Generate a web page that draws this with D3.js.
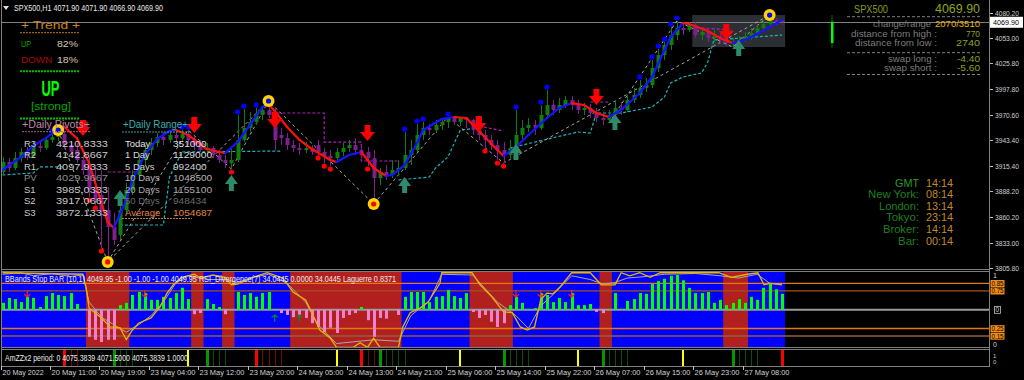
<!DOCTYPE html>
<html><head><meta charset="utf-8">
<script src="https://cdn.jsdelivr.net/npm/d3@7"></script>
<style>html,body{margin:0;padding:0;background:#000;overflow:hidden}svg{display:block}</style>
</head><body><svg id="chart"></svg>
<script>
// ---- candles (SPX500 H1), bar 0 = 20 May 03:00
var opens = [3909.0,3919.7,3913.3,3924.0,3930.5,3926.2,3936.9,3934.8,3943.4,3946.6,
 3949.9,3938.0,3932.6,3921.9,3916.5,3889.6,3884.3,3868.1,3849.9,3841.3,
 3868.1,3889.6,3905.8,3921.9,3932.6,3940.2,3946.6,3943.4,3948.8,3945.5,
 3949.9,3943.4,3938.0,3932.6,3934.8,3927.3,3921.9,3918.6,3921.9,3943.4,
 3956.3,3962.7,3970.3,3975.6,3973.5,3948.8,3945.5,3938.0,3934.8,3932.6,
 3934.8,3938.0,3930.5,3926.2,3924.0,3930.5,3934.8,3938.0,3932.6,3930.5,
 3924.0,3902.5,3909.0,3905.8,3911.1,3913.3,3927.3,3932.6,3948.8,3956.3,
 3954.1,3959.5,3962.7,3967.0,3962.7,3967.0,3964.9,3954.1,3948.8,3943.4,
 3938.0,3932.6,3927.3,3934.8,3948.8,3956.3,3959.5,3956.3,3970.3,3981.0,
 3975.6,3981.0,3986.4,3981.0,3975.6,3977.8,3972.4,3967.0,3964.9,3970.3,
 3977.8,3975.6,3986.4,3991.8,3999.3,4002.5,4020.8,4034.7,4045.5,4056.2,
 4063.8,4061.6,4067.0,4056.2,4059.5,4053.0,4055.2,4050.9,4047.6,4048.7,
 4050.9,4055.2,4058.4,4063.8,4068.1,4072.4,4071.9];
var highs = [3925.1,3924.0,3930.5,3934.8,3935.9,3941.2,3943.4,3946.6,3949.9,3954.1,
 3952.0,3941.2,3940.2,3927.3,3926.2,3916.5,3911.1,3892.9,3864.9,3873.5,
 3897.2,3911.1,3927.3,3938.0,3945.5,3950.9,3952.0,3954.1,3953.1,3954.1,
 3954.1,3947.7,3943.4,3940.2,3936.9,3932.6,3927.3,3934.8,3970.3,3976.7,
 3973.5,3977.8,3979.9,3985.3,3977.8,3956.3,3950.9,3943.4,3940.2,3941.2,
 3938.0,3943.4,3934.8,3932.6,3934.8,3940.2,3943.4,3945.5,3938.0,3935.9,
 3932.6,3913.3,3916.5,3921.9,3921.9,3952.0,3943.4,3960.6,3962.7,3960.6,
 3964.9,3965.9,3968.1,3967.5,3967.5,3967.5,3966.0,3964.9,3954.1,3948.8,
 3943.4,3941.2,3943.4,3975.6,3964.9,3967.0,3964.9,3981.0,3997.1,3986.4,
 3988.5,3990.7,3990.7,3986.4,3983.1,3982.1,3977.8,3973.5,3975.6,3986.4,
 3984.2,3991.8,3999.3,4007.9,4010.0,4029.4,4041.2,4048.7,4064.8,4071.3,
 4068.1,4070.2,4070.2,4063.8,4063.8,4061.6,4058.4,4055.2,4053.0,4055.2,
 4059.5,4063.8,4068.1,4072.4,4077.7,4074.5,4071.9];
var lows = [3904.7,3909.0,3911.1,3919.7,3921.9,3924.0,3930.5,3932.6,3940.2,3942.3,
 3934.8,3924.0,3918.6,3905.8,3882.1,3873.5,3827.3,3812.3,3830.5,3835.9,
 3862.8,3884.3,3900.4,3916.5,3927.3,3935.9,3938.0,3940.2,3941.2,3941.2,
 3938.0,3932.6,3930.5,3927.3,3924.0,3918.6,3913.3,3912.2,3919.7,3941.2,
 3952.0,3959.5,3964.9,3967.0,3932.6,3938.0,3932.6,3930.5,3927.3,3929.4,
 3927.3,3927.3,3918.6,3915.4,3921.9,3926.2,3930.5,3927.3,3924.0,3915.4,
 3874.6,3895.0,3900.4,3902.5,3904.7,3911.1,3916.5,3930.5,3943.4,3948.8,
 3950.9,3954.1,3956.3,3959.5,3958.4,3956.3,3948.8,3943.4,3934.8,3932.6,
 3921.9,3918.6,3924.0,3932.6,3943.4,3952.0,3948.8,3954.1,3967.0,3970.3,
 3972.4,3977.8,3975.6,3971.3,3970.3,3967.0,3962.7,3959.5,3961.6,3967.0,
 3970.3,3973.5,3983.1,3988.5,3995.0,3999.3,4016.5,4029.4,4040.1,4050.9,
 4056.2,4059.5,4053.0,4050.9,4048.7,4048.7,4046.6,4044.4,4043.3,4045.5,
 4048.7,4050.9,4055.2,4059.5,4064.8,4067.0,4066.9];
var closes = [3919.7,3913.3,3924.0,3930.5,3926.2,3936.9,3934.8,3943.4,3946.6,3949.9,
 3938.0,3930.5,3921.9,3911.1,3889.6,3878.9,3868.1,3849.9,3835.9,3868.1,
 3889.6,3905.8,3921.9,3932.6,3940.2,3946.6,3943.4,3948.8,3945.5,3949.9,
 3943.4,3938.0,3932.6,3934.8,3927.3,3921.9,3918.6,3921.9,3943.4,3956.3,
 3962.7,3970.3,3975.6,3970.3,3943.4,3945.5,3938.0,3934.8,3932.6,3934.8,
 3930.5,3930.5,3926.2,3924.0,3930.5,3934.8,3938.0,3932.6,3927.3,3924.0,
 3902.5,3909.0,3905.8,3911.1,3913.3,3927.3,3932.6,3948.8,3956.3,3954.1,
 3959.5,3962.7,3967.0,3962.7,3967.0,3964.9,3954.1,3948.8,3943.4,3938.0,
 3932.6,3927.3,3934.8,3948.8,3956.3,3959.5,3956.3,3970.3,3981.0,3975.6,
 3981.0,3986.4,3981.0,3975.6,3977.8,3972.4,3967.0,3964.9,3970.3,3977.8,
 3975.6,3986.4,3991.8,3999.3,4002.5,4020.8,4034.7,4045.5,4056.2,4063.8,
 4061.6,4067.0,4056.2,4059.5,4053.0,4055.2,4050.9,4047.6,4048.7,4050.9,
 4055.2,4058.4,4063.8,4068.1,4072.4,4070.2,4069.9];

// smoothed trend line [bar, price]
var maPoints = [[0,3911.1],[3,3925.1],[5,3936.9],[8,3949.9],[10,3957.4],[12,3945.5],[14,3918.6],[16,3875.7],
 [17,3855.2],[18,3848.8],[20,3878.9],[21,3900.4],[23,3927.3],[25,3944.5],[27,3953.1],[28,3954.1],[30,3948.8],
 [33,3933.7],[35,3930.5],[36,3929.4],[38,3941.2],[40,3959.5],[42,3978.8],[43,3982.1],[44,3974.5],[46,3957.4],
 [48,3943.4],[50,3933.7],[53,3921.9],[54,3919.7],[56,3927.3],[58,3930.5],[60,3913.3],[62,3904.7],[63,3905.8],
 [65,3916.5],[67,3940.2],[68,3954.1],[71,3965.9],[73,3968.1],[75,3967.0],[77,3953.1],[80,3932.6],[81,3926.2],
 [83,3935.9],[85,3948.8],[88,3967.0],[90,3977.8],[92,3983.1],[94,3981.0],[96,3972.4],[98,3968.1],[100,3975.6],
 [103,3993.9],[105,4011.1],[107,4040.1],[108,4054.1],[110,4069.1],[111,4068.0],[114,4060.5],[116,4053.0],
 [118,4047.6],[120,4050.9],[122,4057.3],[124,4064.8],[126,4072.4]];

var zigzagMajor = [[9,3954.1],[17,3812.3],[43,3985.3],[60,3874.6],[72,3968.1],[81,3918.6],[124,4077.7]];
var zigzagMinor = [[[17,3812.3],[30,3954.1],[37,3912.2],[43,3985.3]],
 [[98,3961.6],[109,4071.3],[118,4043.3],[124,4077.7]]];

var upperChannel = [[[17,3909.0],[22,3909.0]],
 [[42,3972.4],[52,3972.4],[52,3941.2],[58,3941.2],[58,3920.8],[64,3920.8]],
 [[77,3958.4],[81,3953.1]], [[95,3984.2],[98,3984.2]], [[113,4063.8],[118,4061.6]]];
var lowerChannel = [[[0,3905.8],[5,3907.9],[6,3914.4],[10,3914.4]],
 [[19,3852.0],[26,3852.0],[27,3903.6],[29,3930.5],[45,3931.5]],
 [[64,3900.4],[69,3903.6],[70,3913.3],[72,3925.1],[74,3954.1],[77,3956.3]],
 [[82,3934.8],[93,3952.0],[95,3950.9],[96,3972.4],[100,3972.4],[105,3978.8],[107,3989.6],[108,4004.6],
  [110,4011.1],[113,4015.4],[114,4027.2],[115,4050.9],[124,4055.2],[126,4056.2]]];

var fractalHighBars = [8,29,30,38,39,41,65,67,68,72,83,87,88,103,105,106,107,108,109];
var fractalLowBars = [14,15,16,37,51,52,53,59,78,80,81];
var swingHighBars = [9,43,124];
var swingLowBars = [17,60];
var sellArrows = [[13,3956.3],[31,3959.5],[44,3964.9],[59,3950.9],[77,3960.6],[96,3989.6],[117,4059.5]];
var buyArrows = [[19,3881.0],[37,3897.2],[65,3895.0],[83,3930.5],[99,3962.7],[119,4042.3]];
var sessionBoxBars = [111.5,126.5];
var sessionBoxPrices = [4077.7,4043.3];
var lastBid = 4069.90;
var dailyBar = {open:4047.6, high:4077.7, low:4042.3, close:4070.5};

var priceTicks = [4080.20,4053.00,4025.80,3997.80,3970.60,3943.40,3915.40,3888.20,3860.20,3833.00,3805.80];
var timeTickBars = [0,8,16,24,32,40,48,56,64,72,80,88,96,104,112,120];
var timeLabels = ["20 May 2022","20 May 11:00","20 May 19:00","23 May 04:00","23 May 12:00","23 May 20:00",
 "24 May 05:00","24 May 13:00","24 May 21:00","25 May 06:00","25 May 14:00","25 May 22:00",
 "26 May 07:00","26 May 15:00","26 May 23:00","27 May 08:00"];

// ---- sub window 1
var histValues = [0.09,0.155,0.14,0.10,0.17,0.155,0.035,0.18,0.22,0.195,
 0.18,0.22,0.075,0,-0.36,-0.40,-0.43,-0.40,-0.40,0.06,
 0.09,0.195,0.235,0.22,0.13,0.13,0.17,0.155,0.22,0.29,
 0.14,-0.06,-0.045,0.14,0.075,0.035,-0.06,0,0.235,0.195,
 0.22,0.17,0.22,0.235,0,-0.045,-0.07,-0.10,-0.07,-0.11,
 -0.18,-0.23,-0.30,-0.24,-0.31,-0.11,-0.07,-0.045,0.035,-0.14,
 -0.36,-0.11,-0.12,0,-0.07,0.17,0.235,0.235,0.235,0.10,
 0.17,0.18,0.26,0.18,0.155,0.22,-0.03,-0.11,-0.07,-0.16,
 -0.23,-0.18,0.06,0.17,0.09,0.01,0.02,0.22,0.195,0.10,
 0.155,0.10,0.22,0.06,0.06,0.075,-0.03,-0.045,0.01,0.22,
 0.01,0.115,0.14,0.22,0.21,0.34,0.38,0.41,0.45,0.46,
 0.39,0.29,0.22,0.22,0.235,0.09,0.13,0.06,0.09,0.14,
 0.09,0.17,0.13,0.29,0.34,0.27,0.21];
var stopBandRanges = [[14,20],[31,32],[36,37],[47,64],[76,82],[97,98],[117,120]];
var laguerrePoints = [[0,0.99],[13,0.97],[13.5,0.8],[14,0.52],[16,0.39],[17.4,0.27],[19,0.26],[20,0.1],[21,0.23],
 [22,0.32],[24,0.39],[25.5,0.54],[26.6,0.72],[27.6,0.83],[29,0.93],[31,0.97],[32,0.92],[34,0.96],[36,0.93],
 [37,0.83],[38,0.84],[40.5,0.93],[42.8,0.99],[45.3,0.92],[47,0.73],[49,0.63],[50,0.46],[51.3,0.23],[53,0.12],
 [54,0],[56.7,0],[57.8,0.06],[59,0],[60,0.12],[61,0],[64,0],[64.7,0.27],[65.9,0.46],[67.5,0.52],[68.8,0.6],
 [70.7,0.85],[71,0.99],[75.9,0.99],[77.2,0.83],[79.1,0.67],[81,0.47],[82.4,0.46],[83.7,0.27],[84.8,0.23],
 [86,0.27],[87,0.63],[88,0.72],[89,0.71],[90,0.79],[92,0.99],[95,0.99],[96.8,0.83],[99,0.83],[100,0.99],
 [101.4,0.95],[103,0.99],[104.7,0.93],[106.3,0.99],[115.8,0.99],[117.8,0.93],[120.4,0.97],[122.1,0.99],
 [123.1,0.83],[124.1,0.85],[126,0.83]];
var rsiPoints = [[0,0.97],[3,0.99],[5,0.95],[8,0.98],[11,0.94],[13,0.96],[14,0.6],[16,0.4],[18,0.3],[20,0.2],
 [22,0.3],[24,0.42],[26,0.6],[28,0.85],[30,0.95],[33,0.9],[36,0.9],[38,0.86],[40,0.92],[43,0.97],[46,0.85],
 [49,0.6],[51,0.3],[54,0.05],[60,0.1],[64,0.08],[66,0.42],[69,0.62],[71,0.97],[76,0.96],[80,0.6],[83,0.42],
 [85,0.25],[87,0.55],[89,0.7],[92,0.95],[95,0.9],[97,0.84],[99,0.86],[101,0.92],[104,0.94],[107,0.97],
 [112,0.98],[116,0.95],[119,0.92],[122,0.97],[124,0.85],[126,0.84]];
var panelLevels = [0.85,0.75,0.25,0.15];
var panelSellBars = [4,23,83,87,92];
var panelBuyBars = [44,48];
var panelLabel = "BBands Stop BAR (10,1) 4049.95 -1.00 -1.00 -1.00 4049.95  RSI_Divergence(7) 34.0445 0.0000 34.0445  Laguerre 0.8371";

// ---- sub window 2
var yellowSignals = [30,54,74,93,110];
var redStrong = [10,41,58,126];
var redWeak = [11,12,42,43,44,45,59,60];
var greenStrong = [18,33,61,81,97,118];
var greenWeak = [19,20,21,34,35,36,62,63,64,65,82,83,84,85,98,99,100,101,119,120,121,122];
var zzLabel = "AmZZx2 period: 0 4075.3839 4071.5000 4075.3839 1.0000";

// ---- text panels
var trendUp = "82%", trendDown = "18%";
var pivotNames = ["R3","R2","R1","PV","S1","S2","S3"];
var pivotValues = ["4210.8333","4142.8667","4097.9333","4029.9667","3985.0333","3917.0667","3872.1333"];
var rangeNames = ["Today","1 Day","5 Days","10 Days","20 Days","50 Days","Average"];
var rangeValues = ["351000","1129000","992400","1048500","1155100","948434","1054687"];
var infoNames = ["change/range","distance from high :","distance from low :","swap long :","swap short :"];
var infoValues = ["2070/3510","770","2740","-4.40","-5.60"];
var clockNames = ["GMT","New York:","London:","Tokyo:","Broker:","Bar:"];
var clockValues = ["14:14","08:14","13:14","23:14","14:14","00:14"];

var FONT = "'Liberation Sans', Arial, sans-serif";

function txt(sel, x, cy, s, o) {
  o = o || {};
  var size = o.size || 9;
  var t = sel.append('text')
    .attr('x', x).attr('y', cy + size * 0.36)
    .attr('font-family', FONT).attr('font-size', size)
    .attr('fill', o.color || '#c8c8c8')
    .attr('text-anchor', o.anchor || 'start')
    .text(s);
  if (o.w) t.attr('textLength', o.w).attr('lengthAdjust', 'spacingAndGlyphs');
  if (o.weight) t.attr('font-weight', o.weight);
  return t;
}

function hline(sel, x1, x2, yy, color, dash, w) {
  sel.append('line').attr('x1', x1).attr('x2', x2).attr('y1', yy).attr('y2', yy)
    .attr('stroke', color).attr('stroke-width', w || 1)
    .attr('stroke-dasharray', dash || null);
}

function drawChart() {
  var svg = d3.select('#chart').attr('width', 1024).attr('height', 380);
  svg.append('rect').attr('width', 1024).attr('height', 380).attr('fill', '#000');

  var x = d3.scaleLinear().domain([0, 126]).range([2.5, 782]);
  var y = d3.scaleLinear().domain([3805.8, 4080.2]).range([268, 12.7]);
  var yP = d3.scaleLinear().domain([0, 1]).range([347.3, 272]);

  var defs = svg.append('defs');
  defs.append('clipPath').attr('id', 'clipMain').append('rect')
    .attr('x', 2).attr('y', 0).attr('width', 987).attr('height', 269);

  var main = svg.append('g').attr('clip-path', 'url(#clipMain)');

  // session box
  main.append('rect')
    .attr('x', x(sessionBoxBars[0])).attr('y', y(sessionBoxPrices[0]))
    .attr('width', x(sessionBoxBars[1]) - x(sessionBoxBars[0]))
    .attr('height', y(sessionBoxPrices[1]) - y(sessionBoxPrices[0]))
    .attr('fill', '#2b2f33');

  // bid line
  hline(main, 2, 989, Math.round(y(lastBid)) + 0.5, '#7f7f7f', null, 1);

  var line = d3.line().x(d => x(d[0])).y(d => y(d[1]));

  // channels
  lowerChannel.forEach(seg => main.append('path').attr('d', line(seg))
    .attr('fill', 'none').attr('stroke', '#1fb3bd').attr('stroke-width', 1.2).attr('stroke-dasharray', '3,2'));
  upperChannel.forEach(seg => main.append('path').attr('d', line(seg))
    .attr('fill', 'none').attr('stroke', '#b21fb5').attr('stroke-width', 1.2).attr('stroke-dasharray', '3,2'));

  // zigzags
  main.append('path').attr('d', line(zigzagMajor)).attr('fill', 'none')
    .attr('stroke', '#a8a8a8').attr('stroke-width', 1).attr('stroke-dasharray', '3,3');
  zigzagMinor.forEach(seg => main.append('path').attr('d', line(seg)).attr('fill', 'none')
    .attr('stroke', '#a8a8a8').attr('stroke-width', 1).attr('stroke-dasharray', '3,3'));

  // candles
  var bars = closes.map((c, i) => ({i: i, o: opens[i], h: highs[i], l: lows[i], c: c}));
  var col = d => d.c >= d.o ? '#117d11' : '#7f1f8f';
  main.selectAll('.wick').data(bars).join('line').attr('class', 'wick')
    .attr('x1', d => Math.round(x(d.i)) + 0.5).attr('x2', d => Math.round(x(d.i)) + 0.5)
    .attr('y1', d => y(d.h)).attr('y2', d => y(d.l))
    .attr('stroke', col).attr('stroke-width', 1);
  main.selectAll('.body').data(bars).join('rect').attr('class', 'body')
    .attr('x', d => Math.round(x(d.i)) - 1.5)
    .attr('y', d => y(Math.max(d.o, d.c)))
    .attr('width', 4)
    .attr('height', d => Math.max(1, Math.abs(y(d.o) - y(d.c))))
    .attr('fill', col);

  // trend line, blue rising, red falling
  for (var k = 1; k < maPoints.length; k++) {
    var a = maPoints[k - 1], b = maPoints[k];
    main.append('line').attr('x1', x(a[0])).attr('y1', y(a[1])).attr('x2', x(b[0])).attr('y2', y(b[1]))
      .attr('stroke', b[1] >= a[1] ? '#1414ff' : '#ff1010').attr('stroke-width', 2.2)
      .attr('stroke-linecap', 'round');
  }

  // fractal dots
  main.selectAll('.fh').data(fractalHighBars).join('circle')
    .attr('cx', d => x(d)).attr('cy', d => y(highs[d]) - 3).attr('r', 2.6).attr('fill', '#0000ff');
  main.selectAll('.fl').data(fractalLowBars).join('circle')
    .attr('cx', d => x(d)).attr('cy', d => y(lows[d]) + 3).attr('r', 2.6).attr('fill', '#ff0000');

  // swing circles
  swingHighBars.forEach(function(b) {
    main.append('circle').attr('cx', x(b)).attr('cy', y(highs[b])).attr('r', 6).attr('fill', '#ffd400');
    main.append('circle').attr('cx', x(b)).attr('cy', y(highs[b])).attr('r', 2.6).attr('fill', '#0000ff');
  });
  swingLowBars.forEach(function(b) {
    main.append('circle').attr('cx', x(b)).attr('cy', y(lows[b])).attr('r', 6).attr('fill', '#ffd400');
    main.append('circle').attr('cx', x(b)).attr('cy', y(lows[b])).attr('r', 2.6).attr('fill', '#ff0000');
  });

  // arrows
  function downArrow(cx, cy) {
    return 'M' + (cx - 3) + ',' + (cy - 8) + 'H' + (cx + 3) + 'V' + (cy - 1) + 'H' + (cx + 7.5) +
      'L' + cx + ',' + (cy + 8) + 'L' + (cx - 7.5) + ',' + (cy - 1) + 'H' + (cx - 3) + 'Z';
  }
  function upArrow(cx, cy) {
    return 'M' + (cx - 2.5) + ',' + (cy + 8) + 'H' + (cx + 2.5) + 'V' + (cy + 1) + 'H' + (cx + 6.5) +
      'L' + cx + ',' + (cy - 8) + 'L' + (cx - 6.5) + ',' + (cy + 1) + 'H' + (cx - 2.5) + 'Z';
  }
  sellArrows.forEach(d => main.append('path').attr('d', downArrow(x(d[0]), y(d[1]))).attr('fill', '#ff0000'));
  buyArrows.forEach(d => main.append('path').attr('d', upArrow(x(d[0]), y(d[1]))).attr('fill', '#2e8b6a'));

  // daily bar at the right
  svg.append('line').attr('x1', 832).attr('x2', 832).attr('y1', y(dailyBar.high)).attr('y2', y(dailyBar.low))
    .attr('stroke', '#0c6a0c').attr('stroke-width', 1);
  svg.append('rect').attr('x', 831).attr('y', y(dailyBar.close)).attr('width', 2.5)
    .attr('height', y(dailyBar.open) - y(dailyBar.close)).attr('fill', '#00ff00');

  // ---- header
  svg.append('path').attr('d', 'M3,6H9L6,10Z').attr('fill', '#e0e0e0');
  txt(svg, 14, 8, 'SPX500,H1  4071.90 4071.90 4066.90 4069.90', {size: 8.5, color: '#e8e8e8', w: 149});

  // ---- trend box
  txt(svg, 21, 25, '+  Trend  +', {size: 10.5, color: '#d2851a', w: 59});
  hline(svg, 20, 80, 32.7, '#c87810', '2,1', 1);
  txt(svg, 21, 43.5, 'UP', {size: 9.5, color: '#00b000', w: 10});
  txt(svg, 57, 43.5, trendUp, {size: 9.5, color: '#d8c8b4', w: 21});
  txt(svg, 21, 59.5, 'DOWN', {size: 9.5, color: '#b00000', w: 31});
  txt(svg, 57, 59.5, trendDown, {size: 9.5, color: '#d8c8b4', w: 21});
  hline(svg, 20, 80, 71.3, '#00c000', '2,1', 2);
  txt(svg, 50.5, 88, 'UP', {size: 22, color: '#00ff00', w: 18, weight: 'bold', anchor: 'middle'});
  txt(svg, 31, 106.5, '[strong]', {size: 10, color: '#00a800', w: 40});
  hline(svg, 20, 80, 118.5, '#00c000', '2,1', 2);

  // ---- daily pivots
  txt(svg, 22, 124.5, '+Daily Pivots+', {size: 10, color: '#c485ab', w: 68});
  hline(svg, 22, 90, 131.7, '#a06090', '2,1', 1);
  pivotNames.forEach(function(n, i) {
    var cy = 143.3 + i * 11.55;
    var c = n === 'PV' ? '#8c8c8c' : '#c8c8c8';
    txt(svg, 24, cy, n, {size: 9.5, color: c});
    txt(svg, 56, cy, pivotValues[i], {size: 9.5, color: c, w: 52});
  });

  // ---- daily range
  txt(svg, 123, 124.5, '+Daily Range+', {size: 10, color: '#3fb0b0', w: 65});
  hline(svg, 122, 190, 132, '#30a0a0', '2,1', 1);
  var rangeColors = ['#e0e0e0', '#d8d8d8', '#d0d0d0', '#b4b4b4', '#a8a8a8', '#6a6a6a', '#e0854a'];
  rangeNames.forEach(function(n, i) {
    var cy = 143.3 + i * 11.55;
    txt(svg, 125, cy, n, {size: 9.5, color: rangeColors[i]});
    txt(svg, 173, cy, rangeValues[i], {size: 9.5, color: rangeColors[i], w: rangeValues[i].length * 5.6});
  });
  hline(svg, 122, 192, 218.5, '#b08050', '2,1', 1);

  // ---- info panel
  txt(svg, 854, 8.5, 'SPX500', {size: 11.5, color: '#8c9c1c', w: 34});
  txt(svg, 980, 8, '4069.90', {size: 13, color: '#90a41c', w: 45, anchor: 'end'});
  hline(svg, 847, 980, 16.7, '#808080', '3,2', 1);
  var infoY = [24, 33.3, 42.7, 59, 68];
  var infoW = [58, 86, 82, 49, 53];
  var valW = [45, 14, 24, 23, 23];
  infoNames.forEach(function(n, i) {
    txt(svg, i === 0 ? 931 : 937, infoY[i], n, {size: 9, color: '#7c7c7c', anchor: 'end', w: infoW[i]});
    txt(svg, 980, infoY[i], infoValues[i], {size: 9, color: i === 0 ? '#e8b400' : '#8ca01c', anchor: 'end', w: valW[i]});
  });
  hline(svg, 847, 980, 52.7, '#808080', '3,2', 1);
  hline(svg, 847, 980, 74.5, '#808080', '3,2', 1);

  // ---- clock panel
  var clockW = [24, 51, 40, 33, 36, 21];
  clockNames.forEach(function(n, i) {
    var cy = 182.7 + i * 11.6;
    txt(svg, 919, cy, n, {size: 11, color: i === 0 ? '#2a9a2a' : '#1b801b', anchor: 'end', w: clockW[i]});
    txt(svg, 926, cy, clockValues[i], {size: 11, color: '#c08a24', w: 27});
  });

  // ---- price axis
  priceTicks.forEach(function(p) {
    var yy = Math.round(y(p)) + 0.5;
    hline(svg, 989, 993, yy, '#c0c0c0', null, 1);
    txt(svg, 995, yy, p.toFixed(2), {size: 7.5, color: '#d0d0d0', w: 24});
  });
  svg.append('rect').attr('x', 990).attr('y', y(lastBid) - 5.5).attr('width', 33).attr('height', 11).attr('fill', '#fff');
  txt(svg, 993, y(lastBid), lastBid.toFixed(2), {size: 7.5, color: '#000', w: 26});

  // ---- sub window 1
  var p1 = svg.append('g');
  p1.append('rect').attr('x', 2).attr('y', 272).attr('width', x(126.5) - 2).attr('height', 75.3).attr('fill', '#0000ff');
  stopBandRanges.forEach(r => p1.append('rect')
    .attr('x', x(r[0] - 0.5)).attr('y', 272).attr('width', x(r[1] + 0.5) - x(r[0] - 0.5)).attr('height', 75.3)
    .attr('fill', '#b21f1f'));
  var levelColors = ['#e07a10', '#a0521e', '#e07a10', '#946034'];
  panelLevels.forEach((v, i) => hline(p1, 2, 989, yP(v), levelColors[i], null, 1.3));
  hline(p1, 2, 989, yP(0.5), '#9a9a9a', null, 2);

  p1.selectAll('.hist').data(histValues.map((v, i) => ({i: i, v: v}))).join('rect')
    .attr('x', d => Math.round(x(d.i)) - 1).attr('width', 3)
    .attr('y', d => d.v >= 0 ? yP(0.5 + d.v) : yP(0.5))
    .attr('height', d => Math.abs(yP(0.5 + d.v) - yP(0.5)))
    .attr('fill', d => d.v >= 0 ? '#00ff00' : '#f080d0');

  var pl = d3.line().x(d => x(d[0])).y(d => yP(d[1]));
  p1.append('path').attr('d', pl(rsiPoints)).attr('fill', 'none').attr('stroke', '#a8a8a8').attr('stroke-width', 1);
  p1.append('path').attr('d', pl(laguerrePoints)).attr('fill', 'none').attr('stroke', '#e8b400').attr('stroke-width', 1.3);

  panelSellBars.forEach(b => p1.append('path')
    .attr('d', 'M' + x(b) + ',' + (yP(0.72) + 4) + 'L' + (x(b) - 3) + ',' + (yP(0.72) + 1) +
      'M' + x(b) + ',' + (yP(0.72) + 4) + 'L' + (x(b) + 3) + ',' + (yP(0.72) + 1) +
      'M' + x(b) + ',' + (yP(0.72) + 4) + 'V' + (yP(0.72) - 3))
    .attr('stroke', '#ff2020').attr('stroke-width', 1.2).attr('fill', 'none'));
  panelBuyBars.forEach(b => p1.append('path')
    .attr('d', 'M' + x(b) + ',' + (yP(0.38) - 4) + 'L' + (x(b) - 3) + ',' + (yP(0.38) - 1) +
      'M' + x(b) + ',' + (yP(0.38) - 4) + 'L' + (x(b) + 3) + ',' + (yP(0.38) - 1) +
      'M' + x(b) + ',' + (yP(0.38) - 4) + 'V' + (yP(0.38) + 3))
    .attr('stroke', '#0a8a2a').attr('stroke-width', 1.2).attr('fill', 'none'));

  txt(p1, 5, 279, panelLabel, {size: 8.5, color: '#ececec', w: 391});

  // panel axis labels
  txt(svg, 993, 275.5, '1', {size: 7, color: '#d0d0d0'});
  panelLevels.forEach(function(v) {
    svg.append('rect').attr('x', 990.5).attr('y', yP(v) - 3.3).attr('width', 14).attr('height', 7).attr('fill', '#f08a14');
    txt(svg, 991.5, yP(v), String(v), {size: 7, color: '#000', w: 12});
  });
  svg.append('rect').attr('x', 994.5).attr('y', yP(0.5) - 3.3).attr('width', 6).attr('height', 7)
    .attr('fill', 'none').attr('stroke', '#c0c0c0').attr('stroke-width', 0.8);
  txt(svg, 995.5, yP(0.5), '0', {size: 6.5, color: '#d0d0d0'});
  txt(svg, 993, 344.5, '0', {size: 7, color: '#d0d0d0'});

  // ---- sub window 2
  var p2 = svg.append('g');
  function sig(list, color, w) {
    list.forEach(b => p2.append('rect').attr('x', Math.round(x(b)) - (w > 1 ? 1 : 0)).attr('y', 350)
      .attr('width', w).attr('height', 16).attr('fill', color));
  }
  sig(greenWeak, '#0a4d0a', 1);
  sig(redWeak, '#6a0a0a', 1);
  sig(greenStrong, '#009a00', 3);
  sig(redStrong, '#ff0000', 3);
  sig(yellowSignals, '#ffff00', 2);
  txt(p2, 5, 357.5, zzLabel, {size: 8.5, color: '#ececec', w: 183});
  txt(svg, 993, 355.5, '1', {size: 6, color: '#c0c0c0'});
  txt(svg, 993, 362, '0', {size: 6, color: '#c0c0c0'});

  // ---- frames
  var fr = svg.append('g').attr('stroke', '#808080').attr('stroke-width', 1).attr('fill', 'none');
  [269.5, 271.5, 347.5, 349.5, 366.5].forEach(v => fr.append('line').attr('x1', 1).attr('x2', 989.5).attr('y1', v).attr('y2', v));
  fr.append('line').attr('x1', 1.5).attr('x2', 1.5).attr('y1', 0).attr('y2', 367);
  fr.append('line').attr('x1', 989.5).attr('x2', 989.5).attr('y1', 0).attr('y2', 367);

  // ---- time axis
  timeTickBars.forEach(function(b, i) {
    var tx = Math.round(x(b)) - 1.5;
    svg.append('line').attr('x1', tx).attr('x2', tx).attr('y1', 366).attr('y2', 370)
      .attr('stroke', '#c0c0c0').attr('stroke-width', 1);
    txt(svg, tx + 1, 372.5, timeLabels[i], {size: 8, color: '#d0d0d0', w: timeLabels[i].length * 3.75});
  });
}

drawChart();
</script></body></html>
